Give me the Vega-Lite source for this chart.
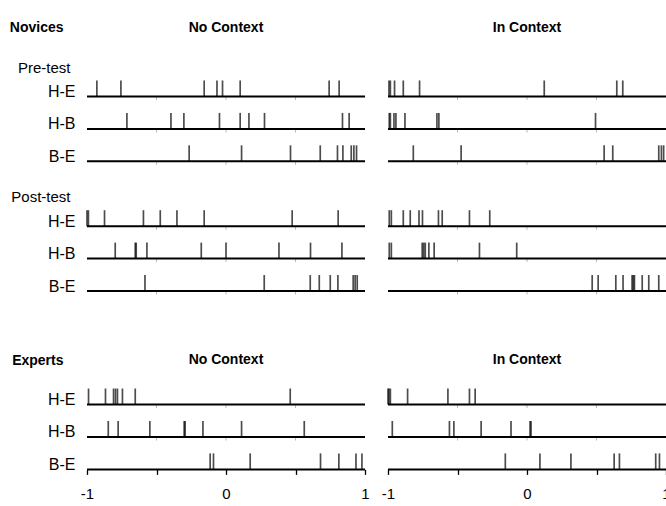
{
  "$schema": "https://vega.github.io/schema/vega-lite/v6.json",
  "background": "white",
  "padding": {"left": 9, "top": 15.4, "right": 0, "bottom": 5},
  "bounds": "flush",
  "spacing": 23,
  "config": {
    "view": {"stroke": null},
    "font": "Liberation Sans, Arial, sans-serif",
    "axis": {"grid": false, "title": null, "labelColor": "black"}
  },
  "datasets": {
    "rows": [
      {"slot": "Pre H-E"}, {"slot": "Pre H-B"}, {"slot": "Pre B-E"},
      {"slot": "Post H-E"}, {"slot": "Post H-B"}, {"slot": "Post B-E"},
      {"slot": "Exp H-E"}, {"slot": "Exp H-B"}, {"slot": "Exp B-E"}
    ],
    "gridticks": [
      {"slot": "Pre H-E", "value": -0.5}, {"slot": "Pre H-E", "value": 0}, {"slot": "Pre H-E", "value": 0.5},
      {"slot": "Pre H-B", "value": -0.5}, {"slot": "Pre H-B", "value": 0}, {"slot": "Pre H-B", "value": 0.5},
      {"slot": "Pre B-E", "value": -0.5}, {"slot": "Pre B-E", "value": 0}, {"slot": "Pre B-E", "value": 0.5},
      {"slot": "Post H-E", "value": -0.5}, {"slot": "Post H-E", "value": 0}, {"slot": "Post H-E", "value": 0.5},
      {"slot": "Post H-B", "value": -0.5}, {"slot": "Post H-B", "value": 0}, {"slot": "Post H-B", "value": 0.5},
      {"slot": "Post B-E", "value": -0.5}, {"slot": "Post B-E", "value": 0}, {"slot": "Post B-E", "value": 0.5},
      {"slot": "Exp H-E", "value": -0.5}, {"slot": "Exp H-E", "value": 0}, {"slot": "Exp H-E", "value": 0.5},
      {"slot": "Exp H-B", "value": -0.5}, {"slot": "Exp H-B", "value": 0}, {"slot": "Exp H-B", "value": 0.5}
    ],
    "headers": [
      {"panel": "No Context", "slot": "Novices", "label": "No Context"},
      {"panel": "No Context", "slot": "Experts", "label": "No Context"},
      {"panel": "In Context", "slot": "Novices", "label": "In Context"},
      {"panel": "In Context", "slot": "Experts", "label": "In Context"}
    ],
    "ticks": [
      {"panel": "No Context", "slot": "Pre H-E", "value": -0.929},
      {"panel": "No Context", "slot": "Pre H-E", "value": -0.756},
      {"panel": "No Context", "slot": "Pre H-E", "value": -0.157},
      {"panel": "No Context", "slot": "Pre H-E", "value": -0.065},
      {"panel": "No Context", "slot": "Pre H-E", "value": -0.025},
      {"panel": "No Context", "slot": "Pre H-E", "value": 0.102},
      {"panel": "No Context", "slot": "Pre H-E", "value": 0.742},
      {"panel": "No Context", "slot": "Pre H-E", "value": 0.814},
      {"panel": "No Context", "slot": "Pre H-B", "value": -0.713},
      {"panel": "No Context", "slot": "Pre H-B", "value": -0.396},
      {"panel": "No Context", "slot": "Pre H-B", "value": -0.303},
      {"panel": "No Context", "slot": "Pre H-B", "value": -0.047},
      {"panel": "No Context", "slot": "Pre H-B", "value": 0.102},
      {"panel": "No Context", "slot": "Pre H-B", "value": 0.165},
      {"panel": "No Context", "slot": "Pre H-B", "value": 0.277},
      {"panel": "No Context", "slot": "Pre H-B", "value": 0.838},
      {"panel": "No Context", "slot": "Pre H-B", "value": 0.886},
      {"panel": "No Context", "slot": "Pre B-E", "value": -0.265},
      {"panel": "No Context", "slot": "Pre B-E", "value": 0.112},
      {"panel": "No Context", "slot": "Pre B-E", "value": 0.464},
      {"panel": "No Context", "slot": "Pre B-E", "value": 0.678},
      {"panel": "No Context", "slot": "Pre B-E", "value": 0.802},
      {"panel": "No Context", "slot": "Pre B-E", "value": 0.841},
      {"panel": "No Context", "slot": "Pre B-E", "value": 0.901},
      {"panel": "No Context", "slot": "Pre B-E", "value": 0.920},
      {"panel": "No Context", "slot": "Pre B-E", "value": 0.939},
      {"panel": "No Context", "slot": "Post H-E", "value": -1.0},
      {"panel": "No Context", "slot": "Post H-E", "value": -0.99},
      {"panel": "No Context", "slot": "Post H-E", "value": -0.874},
      {"panel": "No Context", "slot": "Post H-E", "value": -0.594},
      {"panel": "No Context", "slot": "Post H-E", "value": -0.473},
      {"panel": "No Context", "slot": "Post H-E", "value": -0.353},
      {"panel": "No Context", "slot": "Post H-E", "value": -0.157},
      {"panel": "No Context", "slot": "Post H-E", "value": 0.476},
      {"panel": "No Context", "slot": "Post H-E", "value": 0.807},
      {"panel": "No Context", "slot": "Post H-B", "value": -0.797},
      {"panel": "No Context", "slot": "Post H-B", "value": -0.653},
      {"panel": "No Context", "slot": "Post H-B", "value": -0.646},
      {"panel": "No Context", "slot": "Post H-B", "value": -0.569},
      {"panel": "No Context", "slot": "Post H-B", "value": -0.178},
      {"panel": "No Context", "slot": "Post H-B", "value": 0.0},
      {"panel": "No Context", "slot": "Post H-B", "value": 0.381},
      {"panel": "No Context", "slot": "Post H-B", "value": 0.608},
      {"panel": "No Context", "slot": "Post H-B", "value": 0.834},
      {"panel": "No Context", "slot": "Post B-E", "value": -0.583},
      {"panel": "No Context", "slot": "Post B-E", "value": 0.275},
      {"panel": "No Context", "slot": "Post B-E", "value": 0.606},
      {"panel": "No Context", "slot": "Post B-E", "value": 0.671},
      {"panel": "No Context", "slot": "Post B-E", "value": 0.750},
      {"panel": "No Context", "slot": "Post B-E", "value": 0.805},
      {"panel": "No Context", "slot": "Post B-E", "value": 0.915},
      {"panel": "No Context", "slot": "Post B-E", "value": 0.929},
      {"panel": "No Context", "slot": "Post B-E", "value": 0.944},
      {"panel": "No Context", "slot": "Exp H-E", "value": -0.989},
      {"panel": "No Context", "slot": "Exp H-E", "value": -0.867},
      {"panel": "No Context", "slot": "Exp H-E", "value": -0.809},
      {"panel": "No Context", "slot": "Exp H-E", "value": -0.795},
      {"panel": "No Context", "slot": "Exp H-E", "value": -0.781},
      {"panel": "No Context", "slot": "Exp H-E", "value": -0.745},
      {"panel": "No Context", "slot": "Exp H-E", "value": -0.653},
      {"panel": "No Context", "slot": "Exp H-E", "value": 0.462},
      {"panel": "No Context", "slot": "Exp H-B", "value": -0.847},
      {"panel": "No Context", "slot": "Exp H-B", "value": -0.776},
      {"panel": "No Context", "slot": "Exp H-B", "value": -0.548},
      {"panel": "No Context", "slot": "Exp H-B", "value": -0.301},
      {"panel": "No Context", "slot": "Exp H-B", "value": -0.294},
      {"panel": "No Context", "slot": "Exp H-B", "value": -0.166},
      {"panel": "No Context", "slot": "Exp H-B", "value": 0.112},
      {"panel": "No Context", "slot": "Exp H-B", "value": 0.563},
      {"panel": "No Context", "slot": "Exp B-E", "value": -0.114},
      {"panel": "No Context", "slot": "Exp B-E", "value": -0.090},
      {"panel": "No Context", "slot": "Exp B-E", "value": 0.174},
      {"panel": "No Context", "slot": "Exp B-E", "value": 0.680},
      {"panel": "No Context", "slot": "Exp B-E", "value": 0.812},
      {"panel": "No Context", "slot": "Exp B-E", "value": 0.935},
      {"panel": "No Context", "slot": "Exp B-E", "value": 0.978},
      {"panel": "In Context", "slot": "Pre H-E", "value": -0.993},
      {"panel": "In Context", "slot": "Pre H-E", "value": -0.983},
      {"panel": "In Context", "slot": "Pre H-E", "value": -0.953},
      {"panel": "In Context", "slot": "Pre H-E", "value": -0.890},
      {"panel": "In Context", "slot": "Pre H-E", "value": -0.773},
      {"panel": "In Context", "slot": "Pre H-E", "value": 0.124},
      {"panel": "In Context", "slot": "Pre H-E", "value": 0.646},
      {"panel": "In Context", "slot": "Pre H-E", "value": 0.689},
      {"panel": "In Context", "slot": "Pre H-B", "value": -0.991},
      {"panel": "In Context", "slot": "Pre H-B", "value": -0.983},
      {"panel": "In Context", "slot": "Pre H-B", "value": -0.957},
      {"panel": "In Context", "slot": "Pre H-B", "value": -0.943},
      {"panel": "In Context", "slot": "Pre H-B", "value": -0.878},
      {"panel": "In Context", "slot": "Pre H-B", "value": -0.648},
      {"panel": "In Context", "slot": "Pre H-B", "value": -0.634},
      {"panel": "In Context", "slot": "Pre H-B", "value": 0.493},
      {"panel": "In Context", "slot": "Pre B-E", "value": -0.818},
      {"panel": "In Context", "slot": "Pre B-E", "value": -0.474},
      {"panel": "In Context", "slot": "Pre B-E", "value": 0.555},
      {"panel": "In Context", "slot": "Pre B-E", "value": 0.617},
      {"panel": "In Context", "slot": "Pre B-E", "value": 0.948},
      {"panel": "In Context", "slot": "Pre B-E", "value": 0.967},
      {"panel": "In Context", "slot": "Pre B-E", "value": 0.983},
      {"panel": "In Context", "slot": "Post H-E", "value": -0.991},
      {"panel": "In Context", "slot": "Post H-E", "value": -0.976},
      {"panel": "In Context", "slot": "Post H-E", "value": -0.890},
      {"panel": "In Context", "slot": "Post H-E", "value": -0.840},
      {"panel": "In Context", "slot": "Post H-E", "value": -0.777},
      {"panel": "In Context", "slot": "Post H-E", "value": -0.752},
      {"panel": "In Context", "slot": "Post H-E", "value": -0.637},
      {"panel": "In Context", "slot": "Post H-E", "value": -0.610},
      {"panel": "In Context", "slot": "Post H-E", "value": -0.414},
      {"panel": "In Context", "slot": "Post H-E", "value": -0.268},
      {"panel": "In Context", "slot": "Post H-B", "value": -0.991},
      {"panel": "In Context", "slot": "Post H-B", "value": -0.976},
      {"panel": "In Context", "slot": "Post H-B", "value": -0.754},
      {"panel": "In Context", "slot": "Post H-B", "value": -0.743},
      {"panel": "In Context", "slot": "Post H-B", "value": -0.732},
      {"panel": "In Context", "slot": "Post H-B", "value": -0.706},
      {"panel": "In Context", "slot": "Post H-B", "value": -0.668},
      {"panel": "In Context", "slot": "Post H-B", "value": -0.342},
      {"panel": "In Context", "slot": "Post H-B", "value": -0.074},
      {"panel": "In Context", "slot": "Post B-E", "value": 0.469},
      {"panel": "In Context", "slot": "Post B-E", "value": 0.512},
      {"panel": "In Context", "slot": "Post B-E", "value": 0.639},
      {"panel": "In Context", "slot": "Post B-E", "value": 0.691},
      {"panel": "In Context", "slot": "Post B-E", "value": 0.756},
      {"panel": "In Context", "slot": "Post B-E", "value": 0.765},
      {"panel": "In Context", "slot": "Post B-E", "value": 0.773},
      {"panel": "In Context", "slot": "Post B-E", "value": 0.829},
      {"panel": "In Context", "slot": "Post B-E", "value": 0.876},
      {"panel": "In Context", "slot": "Post B-E", "value": 0.948},
      {"panel": "In Context", "slot": "Exp H-E", "value": -1.0},
      {"panel": "In Context", "slot": "Exp H-E", "value": -0.993},
      {"panel": "In Context", "slot": "Exp H-E", "value": -0.983},
      {"panel": "In Context", "slot": "Exp H-E", "value": -0.859},
      {"panel": "In Context", "slot": "Exp H-E", "value": -0.569},
      {"panel": "In Context", "slot": "Exp H-E", "value": -0.414},
      {"panel": "In Context", "slot": "Exp H-E", "value": -0.373},
      {"panel": "In Context", "slot": "Exp H-B", "value": -0.969},
      {"panel": "In Context", "slot": "Exp H-B", "value": -0.558},
      {"panel": "In Context", "slot": "Exp H-B", "value": -0.526},
      {"panel": "In Context", "slot": "Exp H-B", "value": -0.330},
      {"panel": "In Context", "slot": "Exp H-B", "value": -0.115},
      {"panel": "In Context", "slot": "Exp H-B", "value": 0.022},
      {"panel": "In Context", "slot": "Exp H-B", "value": 0.029},
      {"panel": "In Context", "slot": "Exp B-E", "value": -0.156},
      {"panel": "In Context", "slot": "Exp B-E", "value": 0.093},
      {"panel": "In Context", "slot": "Exp B-E", "value": 0.316},
      {"panel": "In Context", "slot": "Exp B-E", "value": 0.627},
      {"panel": "In Context", "slot": "Exp B-E", "value": 0.665},
      {"panel": "In Context", "slot": "Exp B-E", "value": 0.926},
      {"panel": "In Context", "slot": "Exp B-E", "value": 0.953}
    ]
  },
  "hconcat": [
    {
      "width": 278,
      "height": 454,
      "layer": [
        {
          "data": {"name": "gridticks"},
          "mark": {"type": "tick", "color": "#9a9a9a", "thickness": 1, "size": 3, "yOffset": 2},
          "encoding": {
            "x": {
              "field": "value", "type": "quantitative",
              "scale": {"domain": [-1, 1], "nice": false, "zero": false},
              "axis": {
                "values": [-1, -0.5, 0, 0.5, 1],
                "labelExpr": "datum.value == 0.5 || datum.value == -0.5 ? '' : '' + datum.value",
                "tickSize": 5, "tickColor": "black", "tickWidth": 1.3,
                "domain": false, "labelFontSize": 15, "labelPadding": 12, "labelFlush": false
              }
            },
            "y": {
              "field": "slot", "type": "nominal",
              "scale": {
                "type": "point", "padding": 0,
                "domain": ["_a","_b","Novices","_1","_2","_3","_4","Pre-test","_5","_6","Pre H-E","_7","_8","_9","Pre H-B","_10","_11","_12","Pre B-E","_13","_14","_15","_16","Post-test","_17","_18","Post H-E","_19","_20","_21","Post H-B","_22","_23","_24","Post B-E","_25","_26","_27","_28","_29","_30","_31","_32","Experts","_33","_34","_35","_36","Exp H-E","_37","_38","_39","Exp H-B","_40","_41","_42","Exp B-E"]
              },
              "axis": {
                "values": ["Novices","Pre-test","Pre H-E","Pre H-B","Pre B-E","Post-test","Post H-E","Post H-B","Post B-E","Experts","Exp H-E","Exp H-B","Exp B-E"],
                "labelExpr": "indexof(datum.value, ' ') > 0 ? split(datum.value, ' ')[1] : datum.value",
                "domain": false, "ticks": false, "labelOverlap": false,
                "labelBaseline": "alphabetic", "labelAlign": "right",
                "labelFontSize": {"condition": [{"test": "datum.value == 'Novices' || datum.value == 'Experts'", "value": 14}, {"test": "datum.value == 'Pre-test' || datum.value == 'Post-test'", "value": 15}], "value": 16},
                "labelFontWeight": {"condition": {"test": "datum.value == 'Novices' || datum.value == 'Experts'", "value": "bold"}, "value": "normal"},
                "labelPadding": {"condition": [{"test": "datum.value == 'Novices' || datum.value == 'Experts'", "value": 24}, {"test": "datum.value == 'Pre-test' || datum.value == 'Post-test'", "value": 17}], "value": 12}
              }
            }
          }
        },
        {
          "data": {"name": "rows"},
          "mark": {"type": "rule", "color": "black", "strokeWidth": 2},
          "encoding": {
            "x": {"datum": -1, "type": "quantitative"},
            "x2": {"datum": 1},
            "y": {"field": "slot", "type": "nominal"}
          }
        },
        {
          "data": {"name": "ticks"},
          "transform": [{"filter": "datum.panel == 'No Context'"}],
          "mark": {"type": "tick", "color": "black", "thickness": 1.7, "size": 16, "yOffset": -8},
          "encoding": {
            "x": {"field": "value", "type": "quantitative"},
            "y": {"field": "slot", "type": "nominal"}
          }
        },
        {
          "data": {"name": "headers"},
          "transform": [{"filter": "datum.panel == 'No Context'"}],
          "mark": {"type": "text", "fontWeight": "bold", "fontSize": 14, "baseline": "alphabetic", "color": "black"},
          "encoding": {
            "x": {"datum": 0, "type": "quantitative"},
            "y": {"field": "slot", "type": "nominal"},
            "text": {"field": "label"}
          }
        }
      ]
    },
    {
      "width": 278,
      "height": 454,
      "layer": [
        {
          "data": {"name": "gridticks"},
          "mark": {"type": "tick", "color": "#9a9a9a", "thickness": 1, "size": 3, "yOffset": 2},
          "encoding": {
            "x": {
              "field": "value", "type": "quantitative",
              "scale": {"domain": [-1, 1], "nice": false, "zero": false},
              "axis": {
                "values": [-1, -0.5, 0, 0.5, 1],
                "labelExpr": "datum.value == 0.5 || datum.value == -0.5 ? '' : '' + datum.value",
                "tickSize": 5, "tickColor": "black", "tickWidth": 1.3,
                "domain": false, "labelFontSize": 15, "labelPadding": 12, "labelFlush": false
              }
            },
            "y": {
              "field": "slot", "type": "nominal",
              "scale": {
                "type": "point", "padding": 0,
                "domain": ["_a","_b","Novices","_1","_2","_3","_4","Pre-test","_5","_6","Pre H-E","_7","_8","_9","Pre H-B","_10","_11","_12","Pre B-E","_13","_14","_15","_16","Post-test","_17","_18","Post H-E","_19","_20","_21","Post H-B","_22","_23","_24","Post B-E","_25","_26","_27","_28","_29","_30","_31","_32","Experts","_33","_34","_35","_36","Exp H-E","_37","_38","_39","Exp H-B","_40","_41","_42","Exp B-E"]
              },
              "axis": null
            }
          }
        },
        {
          "data": {"name": "rows"},
          "mark": {"type": "rule", "color": "black", "strokeWidth": 2},
          "encoding": {
            "x": {"datum": -1, "type": "quantitative"},
            "x2": {"datum": 1},
            "y": {"field": "slot", "type": "nominal", "axis": null}
          }
        },
        {
          "data": {"name": "ticks"},
          "transform": [{"filter": "datum.panel == 'In Context'"}],
          "mark": {"type": "tick", "color": "black", "thickness": 1.7, "size": 16, "yOffset": -8},
          "encoding": {
            "x": {"field": "value", "type": "quantitative"},
            "y": {"field": "slot", "type": "nominal", "axis": null}
          }
        },
        {
          "data": {"name": "headers"},
          "transform": [{"filter": "datum.panel == 'In Context'"}],
          "mark": {"type": "text", "fontWeight": "bold", "fontSize": 14, "baseline": "alphabetic", "color": "black"},
          "encoding": {
            "x": {"datum": 0, "type": "quantitative"},
            "y": {"field": "slot", "type": "nominal", "axis": null},
            "text": {"field": "label"}
          }
        }
      ]
    }
  ]
}
